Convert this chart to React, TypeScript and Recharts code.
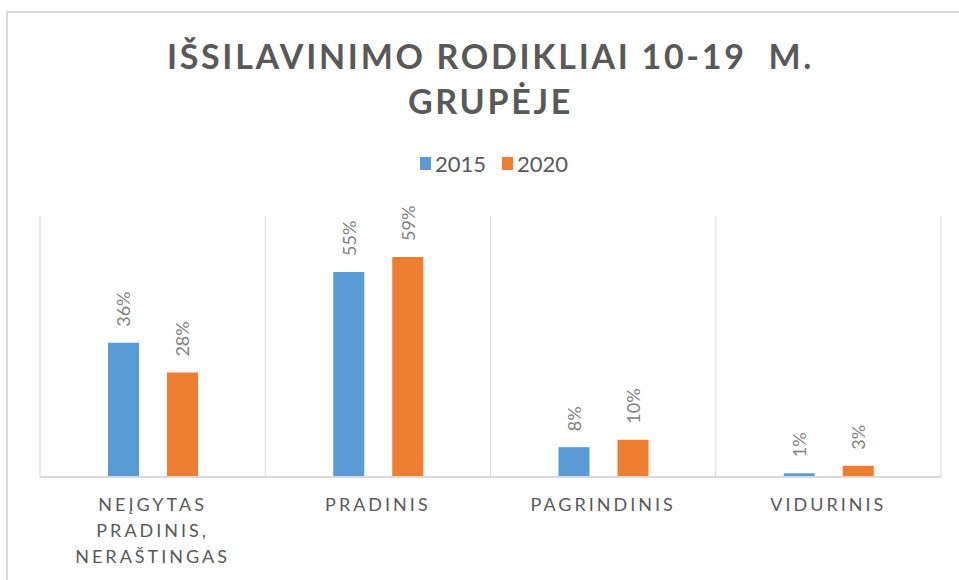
import { BarChart, Bar, XAxis, YAxis, CartesianGrid, LabelList } from "recharts";

const FONT = "Lato, 'Open Sans', sans-serif";
const TEXT_DARK = "#595959";
const TEXT_LIGHT = "#7f7f7f";
const GRID = "#d9d9d9";
const BLUE = "#5b9bd5";
const ORANGE = "#ed7d31";

const titleLines = ["IŠSILAVINIMO RODIKLIAI 10-19  M.", "GRUPĖJE"];
const categories = ["NEĮGYTAS PRADINIS, NERAŠTINGAS", "PRADINIS", "PAGRINDINIS", "VIDURINIS"];
const seriesNames = ["2015", "2020"];
const values2015 = [36, 55, 8, 1];
const values2020 = [28, 59, 10, 3];

const data = categories.map((name, i) => ({
  name,
  y2015: values2015[i],
  y2020: values2020[i],
}));

function RotatedLabel(props: any) {
  const { x, y, width, value } = props;
  const cx = Number(x) + Number(width) / 2;
  const ty = Number(y) - 16;
  return (
    <text
      x={cx}
      y={ty}
      transform={`rotate(-90 ${cx} ${ty})`}
      textAnchor="start"
      dominantBaseline="central"
      fill={TEXT_LIGHT}
      fontSize={18}
      fontFamily={FONT}
    >
      {value}%
    </text>
  );
}

function CategoryTick({ x, y, payload }: any) {
  const words = String(payload.value).split(" ");
  return (
    <text
      x={x}
      y={y}
      textAnchor="middle"
      fill={TEXT_DARK}
      fontSize={18}
      fontFamily={FONT}
      letterSpacing={3}
    >
      {words.map((w, i) => (
        <tspan key={i} x={x} dy={i === 0 ? 34 : 26}>
          {w}
        </tspan>
      ))}
    </text>
  );
}

export default function App() {
  const colors = [BLUE, ORANGE];
  return (
    <div
      style={{
        position: "absolute",
        left: 0,
        top: 0,
        width: 959,
        height: 580,
        overflow: "hidden",
        background: "#fff",
        fontFamily: FONT,
      }}
    >
      <div
        style={{
          position: "absolute",
          left: 6,
          top: 11,
          width: 1000,
          height: 1000,
          border: `2px solid ${GRID}`,
        }}
      />
      <div
        style={{
          position: "absolute",
          left: 40,
          top: 33,
          width: 901,
          textAlign: "center",
          fontWeight: 700,
          fontSize: 34,
          lineHeight: "45px",
          letterSpacing: 2.7,
          color: TEXT_DARK,
          whiteSpace: "pre",
        }}
      >
        {titleLines.map((l, i) => (
          <div key={i}>{l}</div>
        ))}
      </div>
      <div
        style={{
          position: "absolute",
          left: 420,
          top: 150,
          display: "flex",
          alignItems: "center",
          gap: 16,
          fontSize: 22,
          color: TEXT_DARK,
          height: 26,
        }}
      >
        {seriesNames.map((s, i) => (
          <div key={s} style={{ display: "flex", alignItems: "center", gap: 4 }}>
            <span style={{ width: 11, height: 13, background: colors[i], display: "inline-block" }} />
            <span>{s}</span>
          </div>
        ))}
      </div>
      <div style={{ position: "absolute", left: 0, top: 0 }}>
        <BarChart
          width={959}
          height={580}
          data={data}
          margin={{ top: 216, right: 18, bottom: 0, left: 40 }}
          barSize={31}
          barGap={28}
        >
          <CartesianGrid
            stroke={GRID}
            horizontal={false}
            verticalCoordinatesGenerator={({ offset }: any) =>
              categories.map((_, i) => offset.left + (i * offset.width) / categories.length).concat(offset.left + offset.width)
            }
          />
          <XAxis
            dataKey="name"
            height={103}
            tickLine={false}
            tickSize={0}
            tickMargin={0}
            axisLine={{ stroke: GRID, strokeWidth: 2 }}
            tick={<CategoryTick />}
            interval={0}
          />
          <YAxis hide domain={[0, 70]} />
          <Bar dataKey="y2015" name={seriesNames[0]} fill={BLUE} isAnimationActive={false}>
            <LabelList dataKey="y2015" content={<RotatedLabel />} />
          </Bar>
          <Bar dataKey="y2020" name={seriesNames[1]} fill={ORANGE} isAnimationActive={false}>
            <LabelList dataKey="y2020" content={<RotatedLabel />} />
          </Bar>
        </BarChart>
      </div>
    </div>
  );
}
